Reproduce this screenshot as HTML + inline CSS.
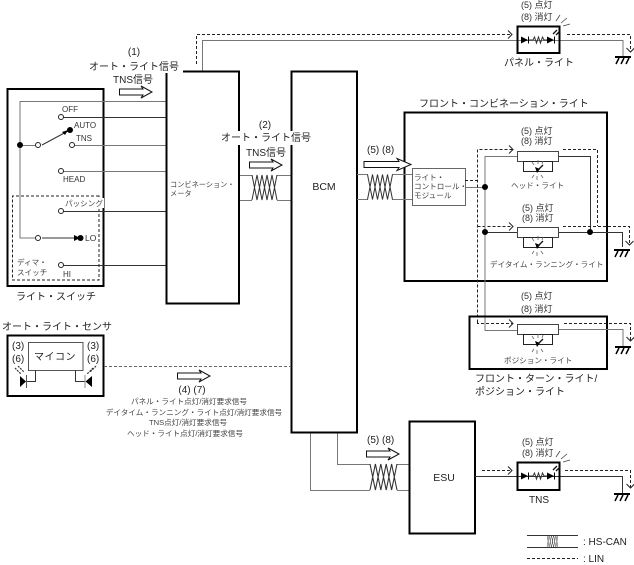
<!DOCTYPE html>
<html lang="ja">
<head>
<meta charset="utf-8">
<style>
html,body{margin:0;padding:0;background:#fff}
svg{display:block}
text{font-family:"Liberation Sans","Noto Sans CJK JP",sans-serif;fill:#222;font-size:10px}
.s{font-size:7.6px;fill:#444}
.l{font-size:8px;fill:#333}
.m{font-size:9px;fill:#333}
.w{fill:none;stroke:#333;stroke-width:1}
.g{fill:none;stroke:#777;stroke-width:1}
.b{fill:#fff;stroke:#000;stroke-width:2}
.t{fill:#fff;stroke:#444;stroke-width:1}
.d{fill:none;stroke:#222;stroke-width:1;stroke-dasharray:3 2}
.a{fill:none;stroke:#222;stroke-width:1}
.h{fill:#fff;stroke:#111;stroke-width:1}
.c{fill:#fff;stroke:#222;stroke-width:1}
.k{fill:#000;stroke:none}
</style>
</head>
<body>
<svg width="634" height="565" viewBox="0 0 634 565" xmlns="http://www.w3.org/2000/svg">
<defs>
<g id="tw"><path class="w" d="M0 0L5 25L10 0L15 25L20 0L25 25M0 25L5 0L10 25L15 0L20 25L25 0"/></g>
<g id="ar"><path class="h" d="M0.5 3V9H24L22 12L33 6L22 0L24 3Z"/></g>
<g id="gnd"><path d="M0 0H16" stroke="#000" stroke-width="2"/><path d="M4 1L1 7M9 1L6 7M14 1L11 7" stroke="#000" stroke-width="1.5"/></g>
<g id="tip"><path class="a" d="M-4 -4L0 0L-4 4"/></g>
<g id="tipd"><path class="a" d="M-4 -4L0 0L4 -4"/></g>
<g id="led">
<path class="k" d="M0 -3.500L7 0L0 3.500Z"/><path d="M7.500 -3.500V3.500" stroke="#000" stroke-width="1"/>
<path class="w" d="M8 0H12L13.500 -3L15.500 3L17.500 -3L19.500 3L21.500 -3L23 0H26"/>
<path class="k" d="M26 -3.500L33 0L26 3.500Z"/><path d="M33.500 -3.500V3.500" stroke="#000" stroke-width="1"/>
<path d="M32 -6L36 -10M35 -5L39 -9" stroke="#111" stroke-width="1.300"/>
</g>
<g id="sub">
<path class="k" d="M-3 -3L2 -1L-1 3Z"/>
<path d="M0 0L5 -5" stroke="#111" stroke-width="1.300"/>
<path d="M0 -6V-10M-4 -5L-6 -8M4 -6L5 -9M-1 6V10M-4 5L-6 8M3 5L5 8" stroke="#666" stroke-width="0.800"/>
</g>
</defs>

<!-- Top panel light wiring -->
<path class="g" d="M202.500 71V40.500H623V56"/>
<path class="d" d="M196.500 64V34.500H512"/><use href="#tip" x="512" y="34.500"/>
<path class="d" d="M567 34.500H630.500V52"/><use href="#tipd" x="630.500" y="52"/>
<use href="#gnd" x="615" y="57"/>

<!-- Light switch -->
<rect x="7.500" y="89" width="96" height="197" fill="none" stroke="#000" stroke-width="2"/>
<path class="d" d="M99 196H12.500V280H99Z" stroke="#222"/>
<path class="g" d="M166 101.500H20V238H38"/>
<path class="w" d="M61 117.500H166"/>
<path class="g" d="M20 145.500H38"/>
<path class="g" d="M72 145.500H166"/>
<path class="g" d="M61 171.500H166"/>
<path class="w" d="M61 211.500H166"/>
<path class="w" d="M61 265.500H166"/>
<path class="w" d="M42 145L68 131"/>
<path class="k" d="M62 132L68 130L65 135Z"/>
<path class="w" d="M42 238H74"/>
<path class="k" d="M74 235L80 238L74 241Z"/>
<circle class="k" cx="20" cy="145" r="3"/>
<circle class="k" cx="70" cy="130" r="3"/>
<circle class="k" cx="80.500" cy="238" r="3"/>
<circle class="c" cx="61" cy="117" r="2.500"/>
<circle class="c" cx="38" cy="145" r="2.500"/>
<circle class="c" cx="72" cy="145" r="2.500"/>
<circle class="c" cx="61" cy="171" r="2.500"/>
<circle class="c" cx="61" cy="211" r="2.500"/>
<circle class="c" cx="38" cy="238" r="2.500"/>
<circle class="c" cx="61" cy="265" r="2.500"/>
<text class="l" x="62" y="112">OFF</text>
<text class="l" x="74" y="128">AUTO</text>
<text class="l" x="76" y="141">TNS</text>
<text class="l" x="63" y="182">HEAD</text>
<rect x="64" y="198" width="40" height="10" fill="#fff"/>
<text class="s" x="65" y="206">パッシング</text>
<text class="l" x="85" y="241" style="font-size:8.500px">LO</text>
<text class="l" x="63" y="277">HI</text>
<text class="s" x="17" y="265">ディマ・</text>
<text class="s" x="17" y="275">スイッチ</text>
<text x="16" y="300">ライト・スイッチ</text>

<!-- Combination meter / BCM -->
<path class="g" d="M239 175.500H252M277 175.500H291M239 200.500H252M277 200.500H291"/>
<use href="#tw" x="252" y="175"/>
<path class="g" d="M310.500 432V490.500H370M397 490.500H409M337.500 432V464.500H370M397 464.500H409"/>
<g transform="translate(370 464) scale(1.080 1.040)"><use href="#tw"/></g>
<rect class="b" x="166.500" y="71.500" width="72.500" height="232"/>
<rect class="b" x="291.500" y="71.500" width="65.500" height="361"/>
<rect class="b" x="409.500" y="421.500" width="65.500" height="112"/>
<text class="s" x="170" y="187" style="font-size:7.200px">コンビネーション・</text>
<text class="s" x="170" y="196" style="font-size:7.200px">メータ</text>
<text x="324" y="190" text-anchor="middle" style="font-size:10.500px">BCM</text>
<text x="444" y="481" text-anchor="middle" style="font-size:10.500px">ESU</text>

<rect x="86" y="60" width="97" height="13" fill="#fff"/>
<text x="134" y="55" text-anchor="middle">(1)</text>
<text x="134" y="70" text-anchor="middle">オート・ライト信号</text>
<text x="133" y="83" text-anchor="middle">TNS信号</text>
<use href="#ar" x="119" y="86"/>

<rect x="220" y="131" width="92" height="14" fill="#fff"/>
<text x="265" y="128" text-anchor="middle">(2)</text>
<text x="266" y="141" text-anchor="middle">オート・ライト信号</text>
<text x="266" y="156" text-anchor="middle">TNS信号</text>
<use href="#ar" x="249" y="159"/>

<!-- Front combination light -->
<rect x="404.500" y="112.500" width="202.500" height="168.500" fill="none" stroke="#000" stroke-width="2"/>
<text x="419" y="107">フロント・コンビネーション・ライト</text>
<path class="g" d="M357 174.500H368M392 174.500H412M357 199.500H368M392 199.500H412"/>
<use href="#tw" x="367.500" y="174.500"/>
<text x="367" y="153">(5) (8)</text>
<path class="h" d="M364 161.500V167.500H399L397 170.500L411 164.500L397 158.500L399 161.500Z"/>
<rect x="412.500" y="168.500" width="53" height="37" fill="#fff" stroke="#666" stroke-width="1"/>
<text class="s" x="414" y="180">ライト・</text>
<text class="s" x="414" y="189">コントロール・</text>
<text class="s" x="414" y="198">モジュール</text>
<path class="g" d="M465 187.500H485"/>
<path class="d" d="M465 180.500H477.500M477.500 322.500V149.500H513"/><use href="#tip" x="513" y="149.500"/>
<path class="d" d="M477.500 226.500H513"/><use href="#tip" x="513" y="226.500"/>
<path class="g" d="M517 156.500H485V330.500H517"/>
<path class="w" d="M485 232.500H517"/>
<path class="w" d="M558 156.500H590.500V232.500"/>
<path class="w" d="M558 232.500H622.500V247"/>
<path class="d" d="M563 149.500H597.500V226"/>
<path class="d" d="M563 226.500H629.500V245"/><use href="#tipd" x="629.500" y="245"/>
<use href="#gnd" x="614" y="250"/>
<circle class="k" cx="485" cy="187" r="3"/>
<circle class="k" cx="485" cy="232" r="3"/>
<circle class="k" cx="590" cy="232" r="3"/>

<rect class="t" x="517.500" y="151.500" width="41" height="10"/>
<rect x="523.500" y="161.500" width="29" height="10" fill="#fff" stroke="#222"/>
<use href="#sub" x="538" y="170"/>
<rect class="t" x="517.500" y="227.500" width="41" height="10"/>
<rect x="523.500" y="237.500" width="29" height="10" fill="#fff" stroke="#222"/>
<use href="#sub" x="538" y="246"/>

<text class="m" x="521" y="134">(5) 点灯</text>
<text class="m" x="521" y="144">(8) 消灯</text>
<text class="s" x="511" y="188">ヘッド・ライト</text>
<text class="m" x="522" y="211">(5) 点灯</text>
<text class="m" x="522" y="221">(8) 消灯</text>
<text class="s" x="490" y="267">デイタイム・ランニング・ライト</text>

<!-- Front turn light -->
<rect x="469.500" y="316.500" width="137.500" height="52.500" fill="none" stroke="#000" stroke-width="2"/>
<path class="d" d="M477.500 322V323.500H513"/><use href="#tip" x="513" y="323.500"/>
<path class="g" d="M558 329.500H623V346"/>
<path class="d" d="M564 323.500H630.500V341"/><use href="#tipd" x="630.500" y="341"/>
<use href="#gnd" x="615" y="347"/>
<rect class="t" x="517.500" y="324.500" width="41" height="10"/>
<rect x="523.500" y="334.500" width="29" height="10" fill="#fff" stroke="#222"/>
<use href="#sub" x="538" y="344"/>
<text class="m" x="521" y="299">(5) 点灯</text>
<text class="m" x="521" y="312">(8) 消灯</text>
<text class="s" x="504" y="363">ポジション・ライト</text>
<text x="475" y="382">フロント・ターン・ライト/</text>
<text x="475" y="395">ポジション・ライト</text>

<!-- Panel light -->
<rect x="517.500" y="26.500" width="42" height="26.500" fill="none" stroke="#000" stroke-width="2"/>
<use href="#led" x="521" y="40"/>
<path d="M556 24L560 18M561 26L567 21M563 29L570 27" stroke="#444" stroke-width="0.800" transform="translate(0 -3)"/>
<text class="m" x="521" y="8">(5) 点灯</text>
<text class="m" x="521" y="20">(8) 消灯</text>
<text x="504" y="66">パネル・ライト</text>

<!-- Sensor -->
<text x="2" y="330">オート・ライト・センサ</text>
<rect x="7.500" y="335.500" width="96" height="60.500" fill="none" stroke="#000" stroke-width="2"/>
<rect x="28.500" y="342.500" width="54.500" height="28" fill="#fff" stroke="#555"/>
<text x="55" y="360" text-anchor="middle" style="letter-spacing:0.500px">マイコン</text>
<text x="12" y="349">(3)</text>
<text x="12" y="362">(6)</text>
<text x="87" y="349">(3)</text>
<text x="87" y="362">(6)</text>
<path class="w" d="M35.500 370.500V381.500H26M75.500 370.500V381.500H85"/>
<path class="k" d="M20 376L26 381.500L20 387Z"/>
<path d="M26.500 375V388" stroke="#555"/>
<path class="k" d="M92 376L85.500 381.500L92 387Z"/>
<path d="M85 375V388" stroke="#888"/>
<path d="M15 368L21 374M18 366L24 372M96 366L90 372M93 368L87 374" stroke="#333" stroke-width="1.200" stroke-dasharray="2 1"/>
<path d="M104 366.500H291" fill="none" stroke="#666" stroke-dasharray="3 2"/>
<use href="#ar" x="177" y="370"/>
<text x="192" y="393" text-anchor="middle">(4) (7)</text>
<text class="s" x="189" y="404" text-anchor="middle">パネル・ライト点灯/消灯要求信号</text>
<text class="s" x="194" y="415" text-anchor="middle">デイタイム・ランニング・ライト点灯/消灯要求信号</text>
<text class="s" x="188" y="425" text-anchor="middle">TNS点灯/消灯要求信号</text>
<text class="s" x="185" y="436" text-anchor="middle">ヘッド・ライト点灯/消灯要求信号</text>

<!-- ESU output -->
<text x="367" y="443">(5) (8)</text>
<use href="#ar" x="366" y="448"/>
<path class="w" d="M475 476.500H622.500V493"/>
<path class="d" d="M482 470.500H512"/><use href="#tip" x="512" y="470.500"/>
<path class="d" d="M565 470.500H630.500V488"/><use href="#tipd" x="630.500" y="488"/>
<use href="#gnd" x="614" y="494"/>
<rect x="517.500" y="462.500" width="42" height="27.500" fill="none" stroke="#000" stroke-width="2"/>
<use href="#led" x="521" y="476"/>
<path d="M556 24L560 18M561 26L567 21M563 29L570 27" stroke="#444" stroke-width="0.800" transform="translate(0 433)"/>
<text class="m" x="522" y="445">(5) 点灯</text>
<text class="m" x="522" y="456">(8) 消灯</text>
<text x="539" y="503" text-anchor="middle">TNS</text>

<!-- Legend -->
<path class="w" d="M527 535.500H578M527 547.500H578"/>
<g transform="translate(547 535) scale(0.440 0.500)"><use href="#tw"/></g>
<path class="d" d="M527 558.500H578"/>
<text x="583" y="545" style="font-size:10px">: HS-CAN</text>
<text x="583" y="562" style="font-size:10px">: LIN</text>
</svg>
</body>
</html>
